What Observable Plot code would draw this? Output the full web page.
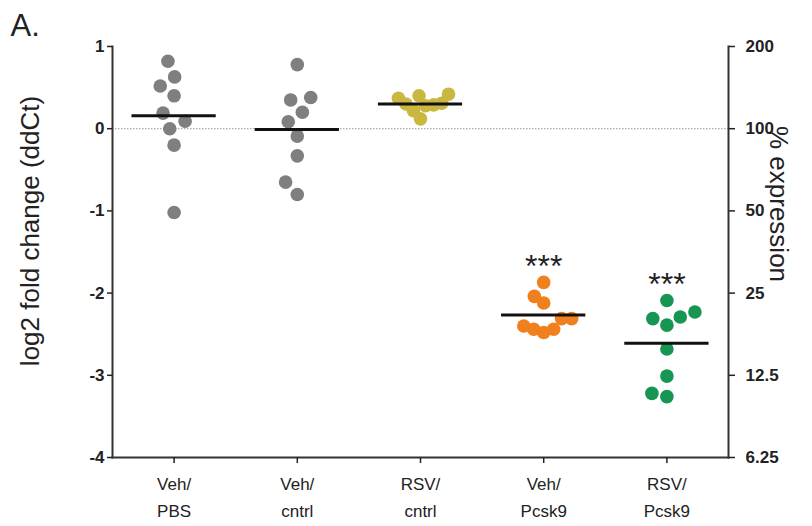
<!DOCTYPE html>
<html><head><meta charset="utf-8">
<script src="https://cdn.jsdelivr.net/npm/d3@7"></script>
<script src="https://cdn.jsdelivr.net/npm/@observablehq/plot@0.6"></script>
<style>
html,body{margin:0;padding:0;background:#fff;}
svg{display:block;}
g[aria-label="y-axis tick label"] text{font-weight:bold;}
</style></head><body><div id="chart"></div>
<script>
// ---- data ----
const categories = ["Veh/\nPBS", "Veh/\ncntrl", "RSV/\ncntrl", "Veh/\nPcsk9", "RSV/\nPcsk9"];
const vehPBS   = [0.82, 0.63, 0.52, 0.40, 0.19, 0.09, 0.00, -0.20, -1.02];
const vehCntrl = [0.78, 0.38, 0.35, 0.20, 0.085, -0.09, -0.33, -0.65, -0.80];
const rsvCntrl = [0.42, 0.40, 0.37, 0.31, 0.30, 0.29, 0.28, 0.22, 0.12];
const vehPcsk9 = [-1.87, -2.04, -2.12, -2.31, -2.31, -2.40, -2.44, -2.44, -2.48];
const rsvPcsk9 = [-2.09, -2.23, -2.29, -2.31, -2.39, -2.68, -3.01, -3.22, -3.26];
const significance = ["", "", "", "***", "***"];
const log2Ticks = [1, 0, -1, -2, -3, -4];
const percentTickLabels = ["200", "100", "50", "25", "12.5", "6.25"];
const panelTitle = "A.";
const yLabel = "log2 fold change (ddCt)";
const y2Label = "% expression";

// ---- styling / layout ----
const groupColors = ["#7f7f7f", "#7f7f7f", "#c9b740", "#f07f1e", "#179552"];
const W = 812, H = 526, mL = 112, mR = 84, mT = 46, mB = 69;
const pxPerY = (H - mT - mB) / 5;
const pxPerX = (W - mL - mR) / 5;
const D = 17;        // min distance between dot centres in the swarm (px)
const maxSpread = 28; // widest offset allowed from the group centre (px)

function swarm(values) {
  const pts = values.map(v => ({v, y: -v * pxPerY, x: 0}));
  const order = pts.slice().sort((a, b) => a.v - b.v);
  const placed = [];
  for (const p of order) {
    const cands = [0];
    for (const q of placed) {
      const dy = p.y - q.y;
      if (Math.abs(dy) < D) {
        const dx = Math.sqrt(D * D - dy * dy);
        cands.push(q.x - dx, q.x + dx);
      }
    }
    cands.sort((a, b) => Math.abs(a) - Math.abs(b) || a - b);
    for (const c of cands) {
      if (placed.every(q => (q.x - c) ** 2 + (q.y - p.y) ** 2 >= D * D - 1e-6)) { p.x = c; break; }
    }
    placed.push(p);
  }
  const widest = d3.max(pts, p => Math.abs(p.x));
  if (widest > maxSpread) pts.forEach(p => p.x *= maxSpread / widest);
  return pts;
}

const groups = [vehPBS, vehCntrl, rsvCntrl, vehPcsk9, rsvPcsk9];
const dots = groups.flatMap((vals, g) =>
  swarm(vals).map(p => ({group: g, value: p.v, xpos: g + p.x / pxPerX})));
const summary = groups.map((vals, g) => ({group: g, mean: d3.mean(vals), max: d3.max(vals)}));

const plot = Plot.plot({
  width: W, height: H,
  marginLeft: mL, marginRight: mR, marginTop: mT, marginBottom: mB,
  style: {fontFamily: "'Liberation Sans', Arial, sans-serif", color: "#222", background: "#fff"},
  x: {type: "linear", domain: [-0.5, 4.5]},
  y: {domain: [-4, 1]},
  color: {type: "identity"},
  marks: [
    Plot.ruleY([0], {stroke: "#999", strokeDasharray: "1.5,1.5", strokeWidth: 1}),
    Plot.dot(dots, {x: "xpos", y: "value", r: 6.8, fill: d => groupColors[d.group], stroke: "none"}),
    Plot.ruleY(summary, {y: "mean", x1: d => d.group - 0.342, x2: d => d.group + 0.342, stroke: "#111", strokeWidth: 3}),
    Plot.text(summary, {x: "group", y: "max", text: d => significance[d.group], dy: -16, fontSize: 32, fill: "#222"}),
    Plot.frame({anchor: "left", stroke: "#333", strokeWidth: 2}),
    Plot.frame({anchor: "right", stroke: "#333", strokeWidth: 2}),
    Plot.frame({anchor: "bottom", stroke: "#333", strokeWidth: 2}),
    Plot.axisY({anchor: "left", ticks: log2Ticks, tickFormat: d => String(d), tickSize: 5, tickPadding: 3,
      fontSize: 17, fontWeight: "bold", label: null, strokeWidth: 1.5}),
    Plot.axisY({anchor: "right", ticks: log2Ticks, tickFormat: d => percentTickLabels[log2Ticks.indexOf(d)],
      tickSize: 6, tickPadding: 11, fontSize: 17, fontWeight: "bold", label: null, strokeWidth: 1.5}),
    Plot.axisX({ticks: [0, 1, 2, 3, 4], tickFormat: i => categories[i], tickSize: 6, tickPadding: 7,
      fontSize: 17, lineHeight: 1.6, label: null, strokeWidth: 1.5}),
    Plot.text([yLabel], {text: d => d, frameAnchor: "left", textAnchor: "middle", lineAnchor: "middle",
      rotate: -90, dx: -82, dy: -21, fontSize: 26, fill: "#222"}),
    Plot.text([y2Label], {text: d => d, frameAnchor: "right", textAnchor: "middle", lineAnchor: "middle",
      rotate: 90, dx: 50, dy: -48, fontSize: 26, fill: "#222"}),
    Plot.text([panelTitle], {text: d => d, frameAnchor: "top-left", textAnchor: "start", lineAnchor: "middle",
      dx: -102, dy: -20, fontSize: 31, fill: "#222"})
  ]
});
document.getElementById("chart").appendChild(plot);
</script>
</body></html>
